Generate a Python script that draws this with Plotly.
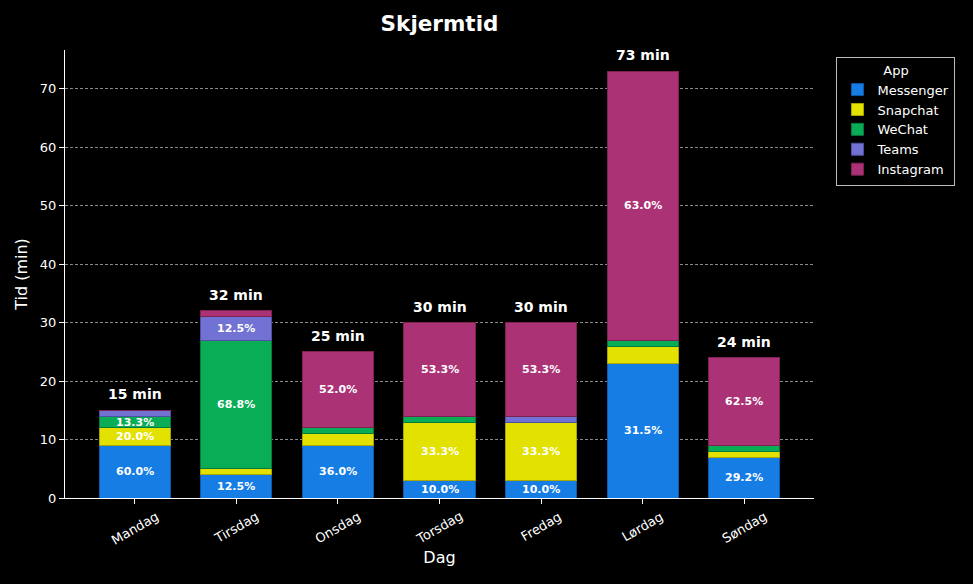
import plotly.graph_objects as go

days = ["Mandag", "Tirsdag", "Onsdag", "Torsdag", "Fredag", "Lørdag", "Søndag"]
apps = ["Messenger", "Snapchat", "WeChat", "Teams", "Instagram"]
messenger = [9, 4, 9, 3, 3, 23, 7]
snapchat = [3, 1, 2, 10, 10, 3, 1]
wechat = [2, 22, 1, 1, 0, 1, 1]
teams = [1, 4, 0, 0, 1, 0, 0]
instagram = [0, 1, 13, 16, 16, 46, 15]
colors = ["#157de4", "#e3e100", "#09ad56", "#7272d4", "#ac3276"]
edges = ["#0e5aa8", "#a9a700", "#067a3c", "#5050a0", "#7c2354"]

series = [messenger, snapchat, wechat, teams, instagram]
totals = [sum(v) for v in zip(*series)]

fig = go.Figure()
for name, vals, c, e in zip(apps, series, colors, edges):
    fig.add_trace(go.Bar(x=days, y=vals, name=name, marker=dict(color=c, line=dict(color=e, width=1)),
                         width=0.7))

annotations = []
base = [0] * len(days)
for vals in series:
    for i, v in enumerate(vals):
        pct = v / totals[i] * 100
        if pct >= 10:
            annotations.append(dict(x=days[i], y=base[i] + v / 2, text=f"{pct:.1f}%", showarrow=False,
                                    font=dict(color="white", size=11, family="DejaVu Sans", weight="bold"),
                                    xref="x", yref="y"))
        base[i] += v
for i, t in enumerate(totals):
    annotations.append(dict(x=days[i], y=t, text=f"{t} min", showarrow=False, yshift=16,
                            font=dict(color="white", size=14, family="DejaVu Sans", weight="bold"),
                            xref="x", yref="y"))
# rotated, centred tick labels (matplotlib-style)
for d in days:
    annotations.append(dict(x=d, y=0, xref="x", yref="paper", text=d, textangle=-30, showarrow=False,
                            xanchor="center", yanchor="top", yshift=-8,
                            font=dict(color="white", size=13, family="DejaVu Sans")))

fig.update_layout(
    barmode="stack",
    width=973, height=584,
    paper_bgcolor="black", plot_bgcolor="black",
    margin=dict(l=65, r=159, t=50, b=86, autoexpand=False),
    font=dict(family="DejaVu Sans", color="white", size=13),
    title=dict(text="<b>Skjermtid</b>", x=(65 + 814) / 2 / 973, xanchor="center", y=0.96, yanchor="middle",
               font=dict(size=21.5, color="white")),
    annotations=annotations,
    legend=dict(title=dict(text="App", side="top center", font=dict(size=13)),
                x=1.03, xanchor="left", y=0.985, yanchor="top",
                bgcolor="black", bordercolor="#bbbbbb", borderwidth=1,
                font=dict(size=13), tracegroupgap=2, traceorder="normal"),
    xaxis=dict(title=dict(text="Dag", font=dict(size=16), standoff=48), showticklabels=False,
               range=[-0.685, 6.685], showline=True, linecolor="white", linewidth=1,
               ticks="outside", tickcolor="white", ticklen=5, showgrid=False, automargin=False),
    yaxis=dict(title=dict(text="Tid (min)", font=dict(size=16), standoff=8), range=[0, 76.65],
               showline=True, linecolor="white", linewidth=1, ticks="outside", tickcolor="white",
               ticklen=5, dtick=10, showgrid=True, gridcolor="#8a8a8a", griddash="3px,2px", gridwidth=1,
               zeroline=False, tickfont=dict(size=13), automargin=False),
)

fig.write_html("out.html", config={"displayModeBar": False},
               post_script="document.body.style.margin='0';document.body.style.background='black';")
